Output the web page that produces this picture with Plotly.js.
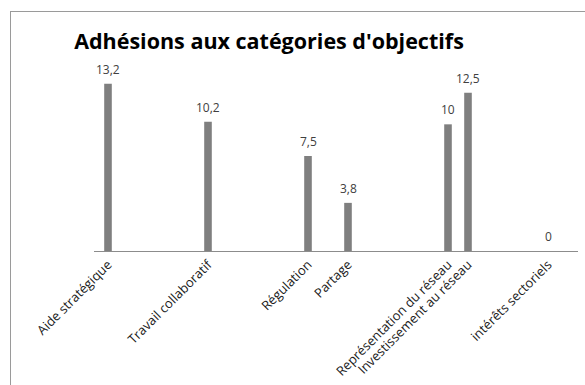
<!DOCTYPE html>
<html>
<head>
<meta charset="utf-8">
<script src="https://cdn.plot.ly/plotly-3.0.1.min.js"></script>
<style>
html,body{margin:0;padding:0;background:#fff;}
#wrap{position:relative;width:585px;height:385px;overflow:hidden;}
#chart{position:absolute;left:0;top:0;width:585px;height:385px;}
#frame{position:absolute;left:10px;top:11px;width:600px;height:400px;border-left:1px solid #9a9a9a;border-top:1px solid #9a9a9a;pointer-events:none;}
</style>
</head>
<body>
<div id="wrap"><div id="chart"></div><div id="frame"></div></div>
<script>
// Category slots along the axis (blank slots are empty categories in the original chart)
const categories = [
  "Aide stratégique", " ", "  ", "   ", "    ",
  "Travail collaboratif", "     ", "      ", "       ", "        ",
  "Régulation", "         ", "Partage", "          ", "           ",
  "            ", "             ", "Représentation du réseau", "Investissement au réseau", "              ",
  "               ", "                ", "intérêts sectoriels", "                 "
];
const values = [
  13.2, null, null, null, null,
  10.2, null, null, null, null,
  7.5, null, 3.8, null, null,
  null, null, 10, 12.5, null,
  null, null, 0, null
];
const titleText = "Adhésions aux catégories d'objectifs";

const trace = {
  type: "bar",
  x: categories,
  y: values,
  marker: {color: "#7f7f7f"},
  hoverinfo: "none"
};

// value labels above the bars (French decimal comma)
const annotations = [];
categories.forEach((c, i) => {
  if (values[i] === null) return;
  annotations.push({
    x: c, y: values[i], xref: "x", yref: "y",
    text: String(values[i]).replace(".", ","),
    showarrow: false, yanchor: "middle", yshift: 14.5,
    font: {family: "Open Sans, sans-serif", size: 12, color: "#404040"}
  });
});

const layout = {
  width: 585, height: 385,
  margin: {l: 94, r: 7, t: 60.5, b: 134, autoexpand: false},
  paper_bgcolor: "rgba(0,0,0,0)",
  plot_bgcolor: "rgba(0,0,0,0)",
  showlegend: false,
  bargap: 0.62,
  annotations: annotations,
  title: {
    text: "<b>" + titleText + "</b>",
    font: {family: "Open Sans, sans-serif", size: 21.5, color: "#000"},
    x: 269/585, xanchor: "center", xref: "container",
    y: 1 - 41/385, yanchor: "middle", yref: "container"
  },
  xaxis: {
    type: "category",
    categoryorder: "array", categoryarray: categories,
    tickangle: -45,
    automargin: false,
    tickfont: {family: "Open Sans, sans-serif", size: 13, color: "#202020"},
    showline: true, linecolor: "#8c8c8c", linewidth: 1,
    ticks: "", showgrid: false, zeroline: false, fixedrange: true
  },
  yaxis: {
    range: [0, 15],
    automargin: false,
    visible: false, showgrid: false, zeroline: false, fixedrange: true
  }
};

Plotly.newPlot("chart", [trace], layout, {displayModeBar: false, staticPlot: true});
</script>
</body>
</html>
